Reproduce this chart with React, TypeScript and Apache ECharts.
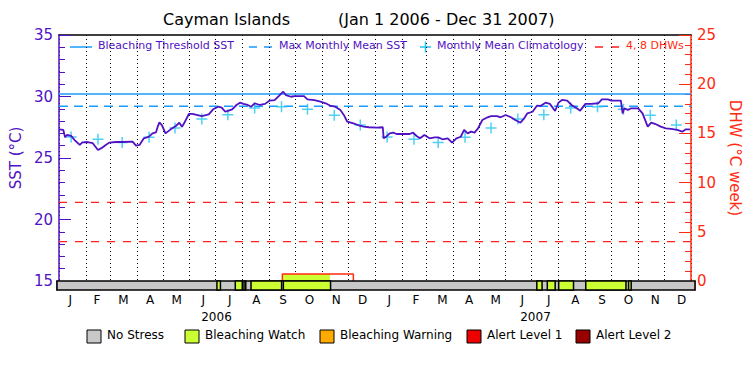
import React, { useEffect, useRef } from "react";
import * as echarts from "echarts";

const titleLeft = "Cayman Islands";
const titleRight = "(Jan 1 2006 - Dec 31 2007)";

const xStart = "2006-01-01";
const xEnd = "2008-01-01";

const sstDates = [
  "2006-01-01","2006-01-06","2006-01-08","2006-01-10","2006-01-15","2006-01-19","2006-01-25","2006-01-28",
  "2006-02-03","2006-02-09","2006-02-15","2006-02-19","2006-02-24","2006-02-28","2006-03-08","2006-03-15",
  "2006-03-27","2006-03-31","2006-04-04","2006-04-09","2006-04-15","2006-04-19","2006-04-23","2006-04-25",
  "2006-04-27","2006-04-30","2006-05-04","2006-05-10","2006-05-16","2006-05-20","2006-05-23","2006-05-25",
  "2006-05-31","2006-06-04","2006-06-15","2006-06-23","2006-06-28","2006-07-04","2006-07-08","2006-07-12",
  "2006-07-16","2006-07-20","2006-07-25","2006-07-29","2006-08-02","2006-08-07","2006-08-11","2006-08-15",
  "2006-08-21","2006-08-27","2006-09-01","2006-09-07","2006-09-13","2006-09-17","2006-09-20","2006-09-26",
  "2006-09-30","2006-10-11","2006-10-15","2006-10-23","2006-10-30","2006-11-05","2006-11-11","2006-11-16",
  "2006-11-22","2006-11-26","2006-11-30","2006-12-07","2006-12-13","2006-12-19","2006-12-25","2007-01-03",
  "2007-01-10","2007-01-11","2007-01-14","2007-01-18","2007-01-22","2007-01-26","2007-02-03","2007-02-10",
  "2007-02-14","2007-02-18","2007-02-22","2007-02-27","2007-03-05","2007-03-11","2007-03-15","2007-03-20",
  "2007-03-26","2007-03-31","2007-04-05","2007-04-10","2007-04-14","2007-04-18","2007-04-22","2007-04-26",
  "2007-04-30","2007-05-05","2007-05-11","2007-05-15","2007-05-22","2007-05-26","2007-06-01","2007-06-07",
  "2007-06-12","2007-06-18","2007-06-22","2007-06-26","2007-07-02","2007-07-07","2007-07-11","2007-07-17",
  "2007-07-22","2007-07-28","2007-08-01","2007-08-05","2007-08-11","2007-08-16","2007-08-22","2007-08-26",
  "2007-09-01","2007-09-08","2007-09-16","2007-09-20","2007-09-27","2007-10-01","2007-10-12","2007-10-14",
  "2007-10-16","2007-10-20","2007-10-24","2007-11-01","2007-11-06","2007-11-12","2007-11-16","2007-11-21",
  "2007-11-27","2007-12-03","2007-12-09","2007-12-16","2007-12-22","2007-12-26","2007-12-31"
];
const sstValues = [
  27.33,27.28,26.68,26.87,26.8,26.46,26.06,26.27,
  26.3,26.2,25.65,25.8,26.06,26.25,26.3,26.3,
  26.33,26.0,26.06,26.6,26.73,27.0,27.08,27.55,
  27.9,27.66,27.0,27.33,27.6,27.87,27.55,27.76,
  28.58,28.58,28.41,28.55,28.96,29.17,29.1,28.76,
  28.85,28.96,29.31,29.5,29.4,29.31,29.17,29.45,
  29.31,29.4,29.66,29.7,30.12,30.39,30.12,29.98,
  30.03,30.03,29.77,29.7,29.58,29.45,29.23,29.17,
  28.9,28.5,27.95,27.82,27.66,27.55,27.5,27.47,
  27.5,26.6,26.73,27.0,27.06,26.95,26.95,26.95,
  27.06,26.79,26.6,26.87,26.6,26.68,26.68,26.52,
  26.6,26.25,26.6,26.73,27.28,27.0,27.14,27.06,
  27.41,28.09,28.31,28.41,28.41,28.31,28.5,28.31,
  28.09,27.87,28.2,28.63,28.76,29.25,29.23,29.5,
  29.4,28.82,29.5,29.72,29.66,29.31,29.04,28.85,
  29.4,29.4,29.45,29.77,29.77,29.66,29.66,28.63,
  29.04,28.9,29.04,29.04,28.63,27.55,27.87,27.76,
  27.55,27.41,27.36,27.28,27.14,27.33,27.33
];

const years = ["2006", "2007"];
const monthNums = ["01","02","03","04","05","06","07","08","09","10","11","12"];
const monthLabels = ["J","F","M","A","M","J","J","A","S","O","N","D"];
const climValues = [26.7, 26.52, 26.26, 26.68, 27.44, 28.18, 28.51, 29.07, 29.17, 28.97, 28.47, 27.68];

const thresholdSST = 30.2;
const mmmSST = 29.2;
const dhwLevels = [4, 8];

const dhwDates = ["2006-09-16", "2006-09-16", "2006-12-07", "2006-12-07"];
const dhwValues = [0, 0.7, 0.7, 0];
const dhwFillDates = ["2006-09-16", "2006-11-10"];
const dhwFillValues = [0.7, 0.7];

const stressStart = ["2006-01-01","2006-07-03","2006-07-24","2006-08-03","2006-08-11","2006-09-17",
  "2007-07-04","2007-07-16","2007-07-29","2007-08-29","2007-10-17"];
const stressEnd = ["2008-01-01","2006-07-07","2006-08-01","2006-08-05","2006-09-15","2006-11-10",
  "2007-07-10","2007-07-25","2007-08-15","2007-10-14","2007-10-20"];
const stressLevel = [0,1,1,1,1,1,1,1,1,1,1];

const stressNames = ["No Stress", "Bleaching Watch", "Bleaching Warning", "Alert Level 1", "Alert Level 2"];
const stressColors = ["#c8c8c8", "#ccff33", "#ffaa00", "#ee0000", "#990000"];

const PURPLE = "#5012c4";
const BLUE = "#1a9cff";
const CYAN = "#22c4f0";
const RED = "#ff2a10";
const DHWRED = "#ff2020";
const FONT = "DejaVu Sans";

const ts = (d: string) => new Date(d + "T00:00:00").getTime();

export default function App() {
  const ref = useRef<HTMLDivElement>(null);
  useEffect(() => {
    if (!ref.current) return;
    const chart = echarts.init(ref.current, null, { renderer: "svg" });

    const sstData = sstDates.map((d, i) => [d, sstValues[i]]);
    const climData: any[] = [];
    years.forEach((y) => monthNums.forEach((m, i) => climData.push([`${y}-${m}-15`, climValues[i]])));
    const stressData = stressStart.map((s, i) => [ts(s), ts(stressEnd[i]), stressLevel[i]]);

    const legendY = 47;
    const legendItems = [
      { x: 98, text: "Bleaching Threshold SST", color: PURPLE },
      { x: 279, text: "Max Monthly Mean SST", color: PURPLE },
      { x: 437, text: "Monthly Mean Climatology", color: PURPLE },
      { x: 626, text: "4, 8 DHWs", color: RED },
    ];
    const bottomLegendX = [87, 185, 320, 467, 576];

    const graphic: any[] = [
      { type: "text", left: 163, top: 11, style: { text: titleLeft, font: `16px ${FONT}`, fill: "#000" } },
      { type: "text", left: 338, top: 11, style: { text: titleRight, font: `16px ${FONT}`, fill: "#000" } },
      { type: "line", shape: { x1: 70, y1: legendY, x2: 92, y2: legendY }, style: { stroke: BLUE, lineWidth: 1.5 } },
      { type: "line", shape: { x1: 249, y1: legendY, x2: 273, y2: legendY }, style: { stroke: BLUE, lineWidth: 1.5, lineDash: [8, 7] } },
      { type: "line", shape: { x1: 420, y1: legendY, x2: 431, y2: legendY }, style: { stroke: CYAN, lineWidth: 1.5 } },
      { type: "line", shape: { x1: 425.5, y1: legendY - 5.5, x2: 425.5, y2: legendY + 5.5 }, style: { stroke: CYAN, lineWidth: 1.5 } },
      { type: "line", shape: { x1: 595, y1: legendY, x2: 621, y2: legendY }, style: { stroke: DHWRED, lineWidth: 1.5, lineDash: [8, 8] } },
      ...legendItems.map((it) => ({
        type: "text", left: it.x, top: legendY - 7,
        style: { text: it.text, font: `11px ${FONT}`, fill: it.color },
      })),
      ...stressNames.map((n, i) => ({
        type: "rect", shape: { x: bottomLegendX[i], y: 330, width: 14, height: 13 },
        style: { fill: stressColors[i], stroke: "#000", lineWidth: 1 },
      })),
      ...stressNames.map((n, i) => ({
        type: "text", left: bottomLegendX[i] + 20, top: 329,
        style: { text: n, font: `12px ${FONT}`, fill: "#000" },
      })),
    ];

    const option: any = {
      animation: false,
      backgroundColor: "#fff",
      graphic,
      grid: [
        { left: 57, right: 55, top: 35, height: 246 },
        { left: 57, right: 55, top: 281, height: 9 },
      ],
      xAxis: [
        {
          type: "time", gridIndex: 0, min: xStart, max: xEnd, splitNumber: 24,
          minInterval: 27 * 86400000, maxInterval: 32 * 86400000,
          axisLine: { show: false }, axisTick: { show: false }, axisLabel: { show: false },
          splitLine: { show: true, lineStyle: { color: "#000", type: [1, 3], width: 1 } },
        },
        {
          type: "time", gridIndex: 0, position: "top", min: xStart, max: xEnd,
          axisLine: { show: true, lineStyle: { color: "#000", width: 1.5 } },
          axisTick: { show: false }, axisLabel: { show: false }, splitLine: { show: false },
        },
        {
          type: "time", gridIndex: 1, min: xStart, max: xEnd,
          axisLine: { show: false }, axisTick: { show: false }, axisLabel: { show: false }, splitLine: { show: false },
        },
        {
          type: "category", gridIndex: 1, position: "bottom", data: [...monthLabels, ...monthLabels],
          axisLine: { show: false }, axisTick: { show: false },
          axisLabel: { color: "#000", fontSize: 12, fontFamily: FONT, margin: 4, interval: 0 },
          splitLine: { show: false },
        },
        {
          type: "category", gridIndex: 1, position: "bottom", offset: 17, data: years,
          axisLine: { show: false }, axisTick: { show: false },
          axisLabel: { color: "#000", fontSize: 12, fontFamily: FONT, margin: 4, interval: 0 },
          splitLine: { show: false },
        },
      ],
      yAxis: [
        {
          type: "value", gridIndex: 0, min: 15, max: 35, interval: 5, position: "left",
          name: "SST (°C)", nameLocation: "middle", nameGap: 36,
          nameTextStyle: { color: PURPLE, fontSize: 15, fontFamily: FONT },
          axisLine: { show: true, lineStyle: { color: PURPLE, width: 1.5 } },
          axisTick: { show: true, inside: true, length: 12, lineStyle: { color: PURPLE } },
          minorTick: { show: true, splitNumber: 5, length: 6, lineStyle: { color: PURPLE } },
          axisLabel: { color: PURPLE, fontSize: 15, fontFamily: FONT, margin: 6 },
          splitLine: { show: false },
        },
        {
          type: "value", gridIndex: 0, min: 0, max: 25, interval: 5, position: "right",
          name: "DHW (°C week)", nameLocation: "middle", nameGap: 34, nameRotate: -90,
          nameTextStyle: { color: RED, fontSize: 15, fontFamily: FONT },
          axisLine: { show: true, lineStyle: { color: RED, width: 1.5 } },
          axisTick: { show: true, inside: true, length: 12, lineStyle: { color: RED } },
          minorTick: { show: true, splitNumber: 5, length: 6, lineStyle: { color: RED } },
          axisLabel: { color: RED, fontSize: 15, fontFamily: FONT, margin: 6 },
          splitLine: { show: false },
        },
        {
          type: "value", gridIndex: 1, min: 0, max: 1, position: "left",
          axisLine: { show: true, lineStyle: { color: PURPLE, width: 1.5 } },
          axisTick: { show: false }, axisLabel: { show: false }, splitLine: { show: false },
        },
        {
          type: "value", gridIndex: 1, min: 0, max: 1, position: "right",
          axisLine: { show: true, lineStyle: { color: RED, width: 1.5 } },
          axisTick: { show: false }, axisLabel: { show: false }, splitLine: { show: false },
        },
      ],
      series: [
        {
          type: "line", xAxisIndex: 0, yAxisIndex: 1, z: 2,
          data: dhwFillDates.map((d, i) => [d, dhwFillValues[i]]),
          symbol: "none", lineStyle: { width: 0 }, areaStyle: { color: stressColors[1], opacity: 1 },
        },
        {
          type: "line", xAxisIndex: 0, yAxisIndex: 1, z: 3,
          data: dhwDates.map((d, i) => [d, dhwValues[i]]),
          symbol: "none", lineStyle: { color: RED, width: 1.5 },
        },
        ...dhwLevels.map((lv) => ({
          type: "line", xAxisIndex: 0, yAxisIndex: 1, z: 3,
          data: [[xStart, lv], [xEnd, lv]], symbol: "none",
          lineStyle: { color: DHWRED, width: 1.2, type: [8, 8] },
        })),
        {
          type: "line", xAxisIndex: 0, yAxisIndex: 0, z: 3,
          data: [[xStart, thresholdSST], [xEnd, thresholdSST]], symbol: "none",
          lineStyle: { color: BLUE, width: 1.5 },
        },
        {
          type: "line", xAxisIndex: 0, yAxisIndex: 0, z: 3,
          data: [[xStart, mmmSST], [xEnd, mmmSST]], symbol: "none",
          lineStyle: { color: BLUE, width: 1.5, type: [9, 6] },
        },
        {
          type: "scatter", xAxisIndex: 0, yAxisIndex: 0, z: 4,
          data: climData, symbol: "path://M0 5 L10 5 M5 0 L5 10", symbolSize: 11,
          itemStyle: { color: "none", borderColor: CYAN, borderWidth: 1.5 },
        },
        {
          type: "line", xAxisIndex: 0, yAxisIndex: 0, z: 5,
          data: sstData, symbol: "none",
          lineStyle: { color: PURPLE, width: 1.8 },
        },
        {
          type: "custom", xAxisIndex: 2, yAxisIndex: 2, z: 5,
          data: stressData,
          encode: { x: [0, 1], y: 2 },
          renderItem: (params: any, api: any) => {
            const s = api.coord([api.value(0), 1]);
            const e = api.coord([api.value(1), 0]);
            return {
              type: "rect",
              shape: { x: s[0], y: s[1], width: e[0] - s[0], height: e[1] - s[1] },
              style: { fill: stressColors[api.value(2)], stroke: "#000", lineWidth: 1.5 },
            };
          },
        },
      ],
    };
    chart.setOption(option);
    return () => chart.dispose();
  }, []);
  return <div ref={ref} style={{ position: "fixed", left: 0, top: 0, width: 750, height: 375 }} />;
}
